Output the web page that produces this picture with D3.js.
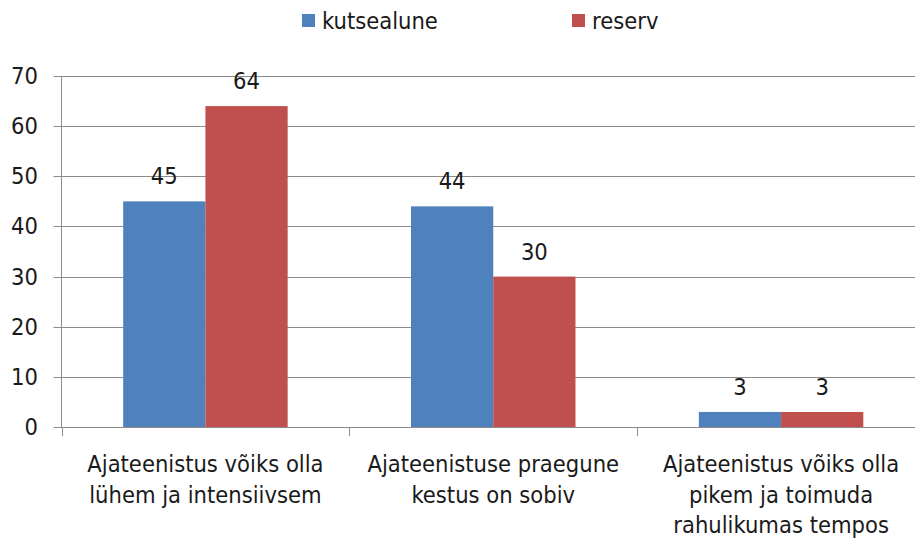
<!DOCTYPE html>
<html><head><meta charset="utf-8">
<script src="https://cdn.jsdelivr.net/npm/d3@7"></script>
<style>body{margin:0;background:#fff}svg{display:block}text{font-family:"DejaVu Sans Condensed","Liberation Sans Narrow","Open Sans",sans-serif;fill:#1a1a1a}</style>
</head><body><svg id="c" width="915" height="538"></svg>
<script>
const categories = [["Ajateenistus võiks olla","lühem ja intensiivsem"],["Ajateenistuse praegune","kestus on sobiv"],["Ajateenistus võiks olla","pikem ja toimuda","rahulikumas tempos"]];
const seriesNames = ["kutsealune","reserv"];
const kutsealune = [45,44,3];
const reserv = [64,30,3];
const yTicks = [0,10,20,30,40,50,60,70];
const colors = ["#4F81BD","#C0504D"];

(function(){
const svg = d3.select("#c");
const fs = 23.5;
const pl = 61.5, pr = 925, pt = 76, pb = 427;
const x = d3.scaleBand().domain(d3.range(categories.length)).range([pl,pr]).paddingInner(0).paddingOuter(0);
const inner = d3.scaleBand().domain([0,1]).range([0,x.bandwidth()]).paddingInner(0).paddingOuter(0.75);
const y = d3.scaleLinear().domain([0,70]).range([pb,pt]);

svg.append("g").selectAll("line").data(yTicks).join("line")
  .attr("x1",pl-8).attr("x2",pr).attr("y1",d=>Math.round(y(d))+0.5).attr("y2",d=>Math.round(y(d))+0.5)
  .attr("stroke","#8c8c8c").attr("stroke-width",1);
svg.append("g").selectAll("text").data(yTicks).join("text")
  .attr("x",38).attr("y",d=>y(d)+8).attr("text-anchor","end").attr("font-size",fs).text(d=>d);
svg.append("line").attr("x1",pl).attr("x2",pl).attr("y1",pt).attr("y2",pb).attr("stroke","#8c8c8c");
svg.append("g").selectAll("line").data(d3.range(categories.length+1)).join("line")
  .attr("x1",d=>Math.round(pl+d*x.step())+0.5).attr("x2",d=>Math.round(pl+d*x.step())+0.5)
  .attr("y1",pb).attr("y2",pb+9).attr("stroke","#8c8c8c");

const data = [kutsealune,reserv];
data.forEach((vals,s)=>{
  svg.append("g").selectAll("rect").data(vals).join("rect")
    .attr("x",(d,i)=>x(i)+inner(s)).attr("width",inner.bandwidth())
    .attr("y",d=>y(d)).attr("height",d=>pb-y(d)).attr("fill",colors[s]);
  svg.append("g").selectAll("text").data(vals).join("text")
    .attr("x",(d,i)=>x(i)+inner(s)+inner.bandwidth()/2).attr("y",d=>y(d)-17)
    .attr("text-anchor","middle").attr("font-size",fs).text(d=>d);
});

categories.forEach((lines,i)=>{
  const cx = x(i)+x.bandwidth()/2;
  const t = svg.append("text").attr("x",cx).attr("y",472).attr("text-anchor","middle").attr("font-size",fs);
  lines.forEach((l,j)=>t.append("tspan").attr("x",cx).attr("dy",j?30.5:0).text(l));
});

const lx = [302,572];
seriesNames.forEach((n,s)=>{
  svg.append("rect").attr("x",lx[s]).attr("y",14).attr("width",13).attr("height",13).attr("fill",colors[s]);
  svg.append("text").attr("x",lx[s]+20).attr("y",29).attr("font-size",fs).text(n);
});
})();
</script></body></html>
